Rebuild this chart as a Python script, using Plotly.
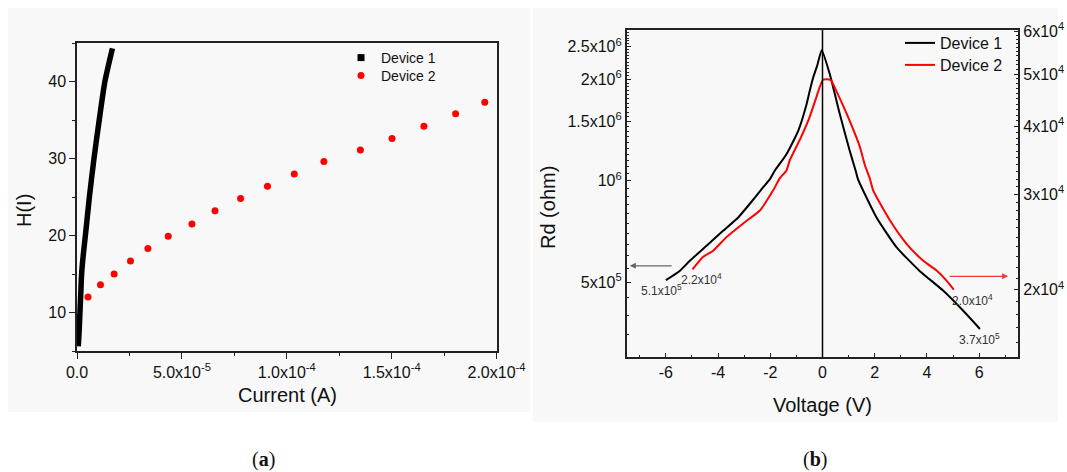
import math
import plotly.graph_objects as go

W, H = 1067, 472
FONT = "Liberation Sans, Arial, sans-serif"

# ---------------- Panel (a) data ----------------
current_dev1 = [6e-7, 1.0e-6, 1.4e-6, 1.8e-6, 2.2e-6, 3.0e-6, 4.0e-6, 5.9e-6, 8.1e-6,
                1.06e-5, 1.33e-5, 1.69e-5]
h_dev1 = [5.6, 7.5, 10, 12.5, 15, 17.5, 20, 25, 30, 35, 40, 44.3]
current_dev2 = [5.25e-6, 1.12e-5, 1.77e-5, 2.55e-5, 3.38e-5, 4.35e-5, 5.48e-5, 6.58e-5,
                7.80e-5, 9.08e-5, 1.036e-4, 1.177e-4, 1.351e-4, 1.502e-4, 1.654e-4,
                1.805e-4, 1.944e-4]
h_dev2 = [12.0, 13.6, 15.0, 16.7, 18.3, 19.9, 21.5, 23.2, 24.8, 26.4, 28.0, 29.6, 31.1,
          32.6, 34.2, 35.8, 37.3]
a_xtick_vals = [0, 5e-5, 1e-4, 1.5e-4, 2e-4]
a_xtick_text = ["0.0", "5.0x10<sup>-5</sup>", "1.0x10<sup>-4</sup>",
                "1.5x10<sup>-4</sup>", "2.0x10<sup>-4</sup>"]
a_ytick_vals = [10, 20, 30, 40]

# ---------------- Panel (b) data ----------------
volt_dev1 = [-6.00, -5.47, -5.08, -4.44, -3.81, -3.23, -2.79, -2.28, -2.02, -1.83, -1.38,
             -0.93, -0.61, -0.49, -0.36, -0.20, -0.03, 0.28, 0.66, 1.04, 1.27, 1.36, 1.56,
             2.07, 2.84, 3.72, 4.62, 5.39, 6.03]
rd_dev1 = [5.08e5, 5.41e5, 5.80e5, 6.42e5, 7.11e5, 7.79e5, 8.54e5, 9.56e5, 1.01e6, 1.071e6,
           1.20e6, 1.407e6, 1.688e6, 1.848e6, 2.02e6, 2.20e6, 2.44e6, 2.07e6, 1.58e6,
           1.23e6, 1.071e6, 1.01e6, 9.35e5, 7.79e5, 6.35e5, 5.41e5, 4.73e5, 4.12e5, 3.64e5]
volt_dev2 = [-4.98, -4.57, -4.19, -3.68, -3.04, -2.40, -1.89, -1.64, -1.38, -1.25, -0.87,
             -0.49, -0.23, -0.10, 0.02, 0.31, 0.54, 0.92, 1.43, 1.62, 1.81, 1.94, 2.58,
             3.22, 3.85, 4.37, 4.75, 5.03]
rd_dev2 = [2.18e4, 2.30e4, 2.36e4, 2.50e4, 2.65e4, 2.80e4, 3.05e4, 3.21e4, 3.32e4, 3.47e4,
           3.78e4, 4.17e4, 4.54e4, 4.74e4, 4.88e4, 4.88e4, 4.64e4, 4.23e4, 3.67e4, 3.40e4,
           3.21e4, 3.05e4, 2.685e4, 2.43e4, 2.263e4, 2.169e4, 2.078e4, 2.0e4]
b_xtick_vals = [-6, -4, -2, 0, 2, 4, 6]
b_xtick_text = ["-6", "-4", "-2", "0", "2", "4", "6"]
b_yl_vals = [5e5, 1e6, 1.5e6, 2e6, 2.5e6]
b_yl_text = ["5x10<sup>5</sup>", "10<sup>6</sup>", "1.5x10<sup>6</sup>",
             "2x10<sup>6</sup>", "2.5x10<sup>6</sup>"]
b_yr_vals = [2e4, 3e4, 4e4, 5e4, 6e4]
b_yr_text = ["2x10<sup>4</sup>", "3x10<sup>4</sup>", "4x10<sup>4</sup>",
             "5x10<sup>4</sup>", "6x10<sup>4</sup>"]
b_yl_minor = [k * 5e4 for k in range(6, 56)]
b_yr_minor = [k * 1e3 for k in range(15, 61)]

# end-point call-outs: (label, x_start, x_end, value, axis, label_x)
callouts = [
    ("5.1x10<sup>5</sup>", -6.81, -5.40, 5.08e5, "y2", -6.16),
    ("2.2x10<sup>4</sup>", -5.34, -4.38, 2.18e4, "y3", -4.62),
    ("2.0x10<sup>4</sup>", 4.75, 5.90, 2.0e4, "y3", 5.75),
    ("3.7x10<sup>5</sup>", 5.33, 6.47, 3.64e5, "y2", 6.03),
]


def px(x):
    return x / W


def py(y):
    return 1 - y / H


fig = go.Figure()

# panel (a)
fig.add_trace(go.Scatter(x=current_dev1, y=h_dev1, mode="lines",
                         line=dict(color="black", width=5.5, shape="spline", smoothing=0.6),
                         showlegend=False, xaxis="x", yaxis="y"))
fig.add_trace(go.Scatter(x=[None], y=[None], mode="markers", name="Device 1",
                         marker=dict(symbol="square", color="black", size=7),
                         xaxis="x", yaxis="y", legend="legend"))
fig.add_trace(go.Scatter(x=current_dev2, y=h_dev2, mode="markers", name="Device 2",
                         marker=dict(symbol="circle", color="#ff0000", size=7),
                         xaxis="x", yaxis="y", legend="legend3"))

# panel (b)
fig.add_trace(go.Scatter(x=volt_dev1, y=rd_dev1, mode="lines", name="Device 1",
                         line=dict(color="black", width=2, shape="spline", smoothing=0.5),
                         xaxis="x2", yaxis="y2", legend="legend2"))
fig.add_trace(go.Scatter(x=volt_dev2, y=rd_dev2, mode="lines", name="Device 2",
                         line=dict(color="#ff0000", width=2, shape="spline", smoothing=0.5),
                         xaxis="x2", yaxis="y3", legend="legend4"))

axis_line = dict(showline=True, linecolor="#222", linewidth=1.5, showgrid=False,
                 zeroline=False, tickcolor="#222", tickwidth=1.2, automargin=False,
                 tickfont=dict(family=FONT, size=16, color="#111"))

a_dom_x = [px(77), px(496.5)]
a_dom_y = [py(351), py(43)]
b_dom_x = [px(626.7), px(1018.3)]
b_dom_y = [py(357.3), py(30)]


def leg(x, ytop, size):
    return dict(x=px(x), y=py(ytop), xanchor="left", yanchor="top",
                bgcolor="rgba(0,0,0,0)", font=dict(family=FONT, size=size, color="#111"),
                tracegroupgap=0)


fig.update_layout(
    width=W, height=H, margin=dict(l=0, r=0, t=0, b=0, autoexpand=False),
    paper_bgcolor="white", plot_bgcolor="rgba(0,0,0,0)",
    xaxis=dict(domain=a_dom_x, anchor="y", range=[0, 2e-4], tickmode="array",
               tickvals=a_xtick_vals, ticktext=a_xtick_text, ticks="outside", ticklen=6,
               mirror=True,
               minor=dict(dtick=2.5e-5, tick0=0, ticks="outside", ticklen=3,
                          tickcolor="#222"),
               **axis_line),
    yaxis=dict(domain=a_dom_y, anchor="x", range=[5, 45], tickmode="array",
               tickvals=a_ytick_vals, ticks="outside", ticklen=6, mirror=True,
               minor=dict(dtick=5, tick0=0, ticks="outside", ticklen=3, tickcolor="#222"),
               **axis_line),
    xaxis2=dict(domain=b_dom_x, anchor="y2", range=[-7.5, 7.5], tickmode="array",
                tickvals=b_xtick_vals, ticktext=b_xtick_text, ticks="inside", ticklen=5,
                mirror=True,
                minor=dict(dtick=1, tick0=0, ticks="inside", ticklen=3, tickcolor="#222"),
                **axis_line),
    yaxis2=dict(domain=b_dom_y, anchor="x2", type="log",
                range=[math.log10(3e5), math.log10(2.8e6)], tickmode="array",
                tickvals=b_yl_vals, ticktext=b_yl_text, ticks="inside", ticklen=5,
                minor=dict(tickmode="array", tickvals=b_yl_minor, ticks="inside",
                           ticklen=3, tickcolor="#222"),
                **axis_line),
    yaxis3=dict(domain=b_dom_y, anchor="x2", overlaying="y2", side="right", type="log",
                range=[math.log10(1.5e4), math.log10(6.03e4)], tickmode="array",
                tickvals=b_yr_vals, ticktext=b_yr_text, ticks="inside", ticklen=5,
                minor=dict(tickmode="array", tickvals=b_yr_minor, ticks="inside",
                           ticklen=3, tickcolor="#222"),
                **axis_line),
    legend=leg(341, 42, 14),
    legend3=leg(341, 60, 14),
    legend2=leg(900, 26, 16),
    legend4=leg(900, 48, 16),
)

# panel backgrounds
fig.add_shape(type="rect", xref="paper", yref="paper", x0=px(8), x1=px(530),
              y0=py(412), y1=py(8), fillcolor="#f8f8f8", line_width=0, layer="below")
fig.add_shape(type="rect", xref="paper", yref="paper", x0=px(533), x1=px(1058),
              y0=py(422), y1=py(8), fillcolor="#f8f8f8", line_width=0, layer="below")

# zero-voltage line
fig.add_shape(type="line", xref="x2", yref="paper", x0=0, x1=0, y0=b_dom_y[0],
              y1=b_dom_y[1], line=dict(color="black", width=1.5))

# call-out underlines and labels
for label, xs, xe, val, yax, xl in callouts:
    ly = math.log10(val)
    fig.add_shape(type="line", xref="x2", yref=yax, x0=xs, x1=xe, y0=ly, y1=ly,
                  line=dict(color="#8a8a8a", width=1.2))
    fig.add_annotation(x=xl, y=ly, xref="x2", yref=yax, text=label, showarrow=False,
                       yshift=-10, font=dict(family=FONT, size=12, color="#333"))

# arrows pointing to each axis
fig.add_annotation(x=-7.38, y=math.log10(5.6e5), ax=-5.72, ay=math.log10(5.6e5),
                   xref="x2", yref="y2", axref="x2", ayref="y2", text="",
                   showarrow=True, arrowhead=2, arrowsize=1, arrowwidth=1.2,
                   arrowcolor="#666")
fig.add_annotation(x=7.11, y=math.log10(2.116e4), ax=4.81, ay=math.log10(2.116e4),
                   xref="x2", yref="y3", axref="x2", ayref="y3", text="",
                   showarrow=True, arrowhead=2, arrowsize=1, arrowwidth=1.2,
                   arrowcolor="#f03a3a")


def paper_text(x, y, text, font, angle=0):
    fig.add_annotation(x=px(x), y=py(y), xref="paper", yref="paper", text=text,
                       xanchor="center", yanchor="middle", textangle=angle,
                       showarrow=False, font=font)


# axis titles
title_font = dict(family=FONT, size=20, color="#111")
paper_text(287, 395, "Current (A)", title_font)
paper_text(24, 211, "H(I)", title_font, -90)
paper_text(822, 405, "Voltage (V)", title_font)
paper_text(548, 208, "Rd (ohm)", title_font, -90)

# panel labels
lab_font = dict(family="Liberation Serif, DejaVu Serif, serif", size=20, color="#111")
paper_text(263, 459, "(<b>a</b>)", lab_font)
paper_text(815, 459, "(<b>b</b>)", lab_font)

fig.write_html("out.html")
